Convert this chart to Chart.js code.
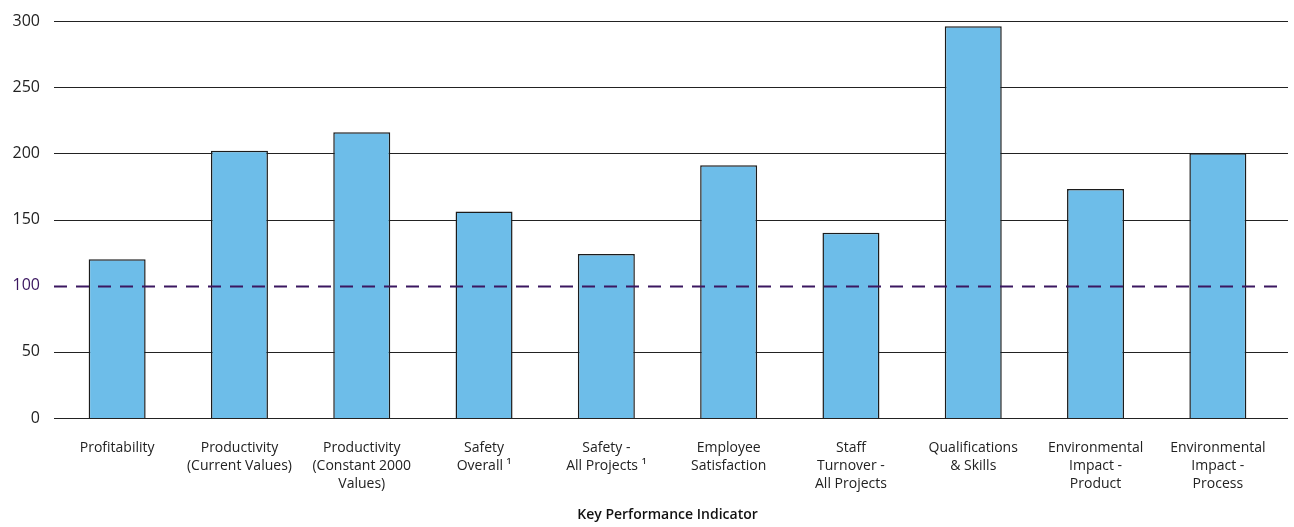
<!DOCTYPE html>
<html>
<head>
<meta charset="utf-8">
<script src="https://cdn.jsdelivr.net/npm/chart.js@4"></script>
<style>
  html, body { margin: 0; padding: 0; background: #fff; }
  #wrap { width: 1294px; height: 527px; }
</style>
</head>
<body>
<div id="wrap"><canvas id="chart" width="1294" height="527"></canvas></div>
<script>
// KPI categories (multi-line labels)
const categories = [
    ['Profitability'],
    ['Productivity', '(Current Values)'],
    ['Productivity', '(Constant 2000', 'Values)'],
    ['Safety', 'Overall \u00B9'],
    ['Safety -', 'All Projects \u00B9'],
    ['Employee', 'Satisfaction'],
    ['Staff', 'Turnover -', 'All Projects'],
    ['Qualifications', '& Skills'],
    ['Environmental', 'Impact -', 'Product'],
    ['Environmental', 'Impact -', 'Process']
];
const kpiValues = [120, 202, 216, 156, 124, 191, 140, 296, 173, 200];
const yTicks = [0, 50, 100, 150, 200, 250, 300];
const baseline = 100;
const axisTitle = 'Key Performance Indicator';

const purple = '#3b1760';

// horizontal grid lines run a little past the category band on both sides
const gridPlugin = {
    id: 'kpiGrid',
    beforeDatasetsDraw(chart) {
        const { ctx, chartArea, scales } = chart;
        ctx.save();
        ctx.strokeStyle = '#222';
        ctx.lineWidth = 1.2;
        yTicks.forEach(v => {
            if (v === baseline) return;
            const y = Math.round(scales.y.getPixelForValue(v)) + 0.5;
            ctx.beginPath();
            ctx.moveTo(chartArea.left - 2, y);
            ctx.lineTo(chartArea.right + 9, y);
            ctx.stroke();
        });
        ctx.restore();
    },
    // dashed reference line at the baseline value, over the bars
    afterDatasetsDraw(chart) {
        const { ctx, chartArea, scales } = chart;
        const y = Math.round(scales.y.getPixelForValue(baseline)) + 0.5;
        ctx.save();
        ctx.strokeStyle = purple;
        ctx.lineWidth = 2;
        ctx.setLineDash([13, 9]);
        ctx.beginPath();
        ctx.moveTo(chartArea.left - 2, y);
        ctx.lineTo(chartArea.right + 1, y);
        ctx.stroke();
        ctx.restore();
    }
};

new Chart(document.getElementById('chart'), {
    type: 'bar',
    data: {
        labels: categories,
        datasets: [{
            data: kpiValues,
            backgroundColor: '#6dbde9',
            borderColor: '#1c1c1c',
            borderWidth: 1.5,
            barPercentage: 0.466,
            categoryPercentage: 1
        }]
    },
    options: {
        responsive: false,
        animation: false,
        layout: { padding: { left: 0, right: 15, top: 21, bottom: 0 } },
        plugins: {
            legend: { display: false },
            tooltip: { enabled: false }
        },
        scales: {
            x: {
                grid: { display: false, drawTicks: false },
                border: { display: false },
                ticks: {
                    color: '#222',
                    padding: 21,
                    maxRotation: 0,
                    autoSkip: false,
                    font: { family: 'Open Sans', size: 14, lineHeight: 1.3 }
                },
                title: {
                    display: true,
                    text: axisTitle,
                    color: '#111',
                    padding: { top: 0, bottom: 4 },
                    font: { family: 'Open Sans', size: 14, weight: '600' }
                },
                afterFit(axis) { axis.height = 109; }
            },
            y: {
                min: 0,
                max: 300,
                afterBuildTicks(axis) { axis.ticks = yTicks.map(v => ({ value: v })); },
                grid: { display: false, drawTicks: false },
                border: { display: false },
                ticks: {
                    padding: 16,
                    color: c => c.tick && c.tick.value === baseline ? purple : '#222',
                    font: { family: 'Open Sans', size: 16 }
                },
                afterFit(axis) {
                    axis.width = 56;
                    axis.paddingTop = 0;
                    axis.paddingBottom = 0;
                }
            }
        }
    },
    plugins: [gridPlugin]
});
</script>
</body>
</html>
